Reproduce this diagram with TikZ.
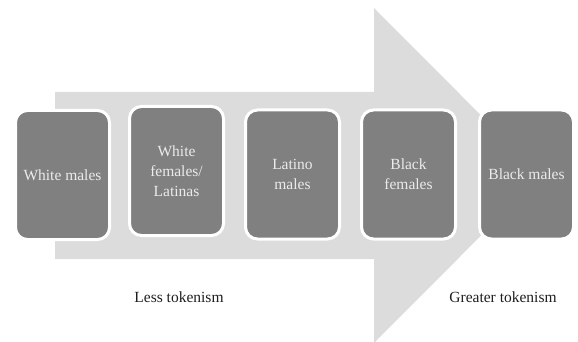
\documentclass[tikz,border=0pt]{standalone}
\usepackage{fontspec}
\setmainfont{Liberation Serif}
\usepackage{tikz}
\usetikzlibrary{positioning}
\definecolor{boxgray}{HTML}{808080}
\definecolor{bandgray}{HTML}{DCDCDC}
\definecolor{labelink}{HTML}{1E1E1E}

\begin{document}
\begin{tikzpicture}[
  x=1pt, y=-1pt,
  node distance=0pt and 19pt,
  group/.style={rectangle, draw=white, line width=3pt, fill=boxgray, rounded corners=12pt, minimum width=94pt, minimum height=129pt, align=center, text=white!92!black, font=\fontsize{15.5}{20}\selectfont},
  caption/.style={font=\fontsize{15.5}{20}\selectfont, text=labelink},
  band/.style={fill=bandgray}
]
\useasboundingbox (0,0) rectangle (578,342);
\clip (0,0) rectangle (578,342);

% Background arrow
\fill[band] (55,92) -- (374,92) -- (374,8) -- (541,175.5) -- (374,343) -- (374,259) -- (55,259) -- cycle;

% Groups
\node[group] (wm) at (62.5,175) {White males};
\node[group, right=17pt of wm, yshift=4pt] (wf) {White\\females/\\Latinas};
\node[group, right=19pt of wf, yshift=-3.5pt] (lm) {Latino\\males};
\node[group, right=of lm] (bf) {Black\\females};
\node[group, right=21pt of bf] (bm) {Black males};

% Captions
\node[caption] (less) at (179,297) {Less tokenism};
\node[caption] (more) at (503,297) {Greater tokenism};

\end{tikzpicture}
\end{document}
